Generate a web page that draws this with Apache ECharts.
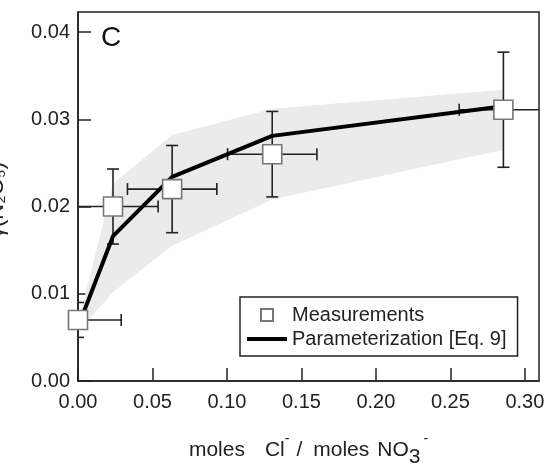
<!DOCTYPE html>
<html>
<head>
<meta charset="utf-8">
<script src="https://cdn.jsdelivr.net/npm/echarts@6/dist/echarts.min.js"></script>
<style>
html,body{margin:0;padding:0;background:#fff;}
#chart{width:558px;height:476px;}
</style>
</head>
<body>
<div id="chart"></div>
<script>
// ---- data ----
const measX    = [0.000, 0.0235, 0.0632, 0.1304, 0.2856];
const measY    = [0.0070, 0.0200, 0.0220, 0.0260, 0.0311];
const measXErr = [0.0290, 0.0303, 0.0300, 0.0300, 0.0297];
const measYErr = [0.0020, 0.0043, 0.0050, 0.0049, 0.0066];

const paramX = [0.000, 0.0235, 0.0632, 0.1304, 0.2856];
const paramY = [0.0062, 0.0166, 0.0234, 0.0281, 0.0315];

const bandX     = [0.002, 0.0235, 0.0632, 0.1304, 0.2856];
const bandUpper = [0.0080, 0.0226, 0.0282, 0.0312, 0.0334];
const bandLower = [0.0060, 0.0102, 0.0155, 0.0208, 0.0265];

const xTicks = ['0.00','0.05','0.10','0.15','0.20','0.25','0.30'];
const yTicks = ['0.00','0.01','0.02','0.03','0.04'];

const seriesNames = ['Measurements', 'Parameterization [Eq. 9]'];
const panelLabel = 'C';
const yTitle = 'γ(N₂O₅)';

// ---- build ----
const FONT = '"Liberation Sans", Arial, Helvetica, sans-serif';
const INK = '#222';

const bandPoly = [];
bandX.forEach((x, i) => bandPoly.push([x, bandUpper[i]]));
for (let i = bandX.length - 1; i >= 0; i--) bandPoly.push([bandX[i], bandLower[i]]);

const errData = measX.map((x, i) => [x, measY[i], measXErr[i], measYErr[i]]);
const measData = measX.map((x, i) => [x, measY[i]]);
const paramData = paramX.map((x, i) => [x, paramY[i]]);

const chart = echarts.init(document.getElementById('chart'), null, {renderer: 'canvas'});

const option = {
  animation: false,
  backgroundColor: '#fff',
  textStyle: {fontFamily: FONT},
  grid: {left: 78, right: 19, top: 12, bottom: 95, show: true, borderColor: INK, borderWidth: 1.5, backgroundColor: 'transparent'},
  xAxis: {
    type: 'value', min: 0, max: 0.3095, interval: 0.05,
    axisLine: {show: true, onZero: false, lineStyle: {color: INK, width: 1.5}},
    axisTick: {show: true, inside: true, length: 13, lineStyle: {color: INK, width: 1.5}},
    splitLine: {show: false},
    axisLabel: {
      fontSize: 20, color: INK, fontFamily: FONT, margin: 11, showMaxLabel: false,
      formatter: v => { const i = Math.round(v / 0.05); return Math.abs(v - i * 0.05) < 1e-9 ? xTicks[i] : ''; }
    },
    name: '{a|moles}{g1| }{a|Cl}{sup|-}{g2| }{a|/}{g3| }{a|moles}{g4| }{a|NO}{sub|3}{g5| }{sup|-}',
    nameLocation: 'middle', nameGap: 51,
    nameTextStyle: {
      fontSize: 21, color: INK, fontFamily: FONT, lineHeight: 36,
      rich: {
        a: {fontSize: 21, color: INK, fontFamily: FONT},
        g1: {fontSize: 21, width: 20},
        g2: {fontSize: 21, width: 7},
        g3: {fontSize: 21, width: 11},
        g4: {fontSize: 21, width: 8},
        g5: {fontSize: 21, width: 3},
        sup: {fontSize: 14, color: INK, fontFamily: FONT, lineHeight: 4, verticalAlign: 'top'},
        sub: {fontSize: 21, color: INK, fontFamily: FONT, lineHeight: 20, verticalAlign: 'bottom'}
      }
    }
  },
  yAxis: {
    type: 'value', min: 0, max: 0.0423, interval: 0.01,
    axisLine: {show: true, onZero: false, lineStyle: {color: INK, width: 1.5}},
    axisTick: {show: true, inside: true, length: 13, lineStyle: {color: INK, width: 1.5}},
    splitLine: {show: false},
    axisLabel: {
      fontSize: 20, color: INK, fontFamily: FONT, margin: 8, showMaxLabel: false,
      formatter: v => { const i = Math.round(v / 0.01); return Math.abs(v - i * 0.01) < 1e-9 ? yTicks[i] : ''; }
    }
  },
  legend: {
    left: 240, top: 297, orient: 'vertical',
    padding: [7, 11, 6, 7],
    itemWidth: 40, itemHeight: 12, itemGap: 2,
    borderColor: INK, borderWidth: 1.5, backgroundColor: '#fff',
    textStyle: {fontSize: 20, color: INK, fontFamily: FONT, lineHeight: 22},
    selectedMode: false,
    data: [
      {name: seriesNames[0], icon: 'path://M0,0H10V10H0Z'},
      {name: seriesNames[1], icon: 'path://M0,0H40V4H0Z'}
    ]
  },
  graphic: [
    {type: 'text', x: 101, y: 38, z: 10, style: {text: panelLabel, fontSize: 28, fill: '#111', fontFamily: FONT, verticalAlign: 'middle', align: 'left'}},
    {type: 'text', x: 8, y: 200, rotation: Math.PI / 2, z: 10, style: {text: yTitle, fontSize: 22, fill: INK, fontFamily: FONT, align: 'center', verticalAlign: 'bottom'}}
  ],
  series: [
    {
      type: 'custom', name: 'band', z: 1, silent: true,
      data: bandPoly,
      encode: {x: 0, y: 1},
      renderItem: (params, api) => {
        if (params.dataIndex !== 0) return null;
        const pts = bandPoly.map(p => api.coord(p));
        return {type: 'polygon', shape: {points: pts}, style: {fill: '#ebebeb', stroke: null}};
      }
    },
    {
      type: 'custom', name: 'errors', z: 2, silent: true, clip: true,
      data: errData,
      encode: {x: 0, y: 1},
      renderItem: (params, api) => {
        const x = api.value(0), y = api.value(1), ex = api.value(2), ey = api.value(3);
        const top = api.coord([x, y + ey]);
        const bot = api.coord([x, y - ey]);
        const lft = api.coord([x - ex, y]);
        const rgt = api.coord([x + ex, y]);
        const c = 6;
        const st = {stroke: INK, lineWidth: 1.6, fill: null};
        const L = (x1, y1, x2, y2) => ({type: 'line', shape: {x1, y1, x2, y2}, style: st});
        return {type: 'group', children: [
          L(top[0], top[1], bot[0], bot[1]),
          L(top[0] - c, top[1], top[0] + c, top[1]),
          L(bot[0] - c, bot[1], bot[0] + c, bot[1]),
          L(lft[0], lft[1], rgt[0], rgt[1]),
          L(lft[0], lft[1] - c, lft[0], lft[1] + c),
          L(rgt[0], rgt[1] - c, rgt[0], rgt[1] + c)
        ]};
      }
    },
    {
      type: 'line', name: seriesNames[1], z: 3,
      data: paramData, showSymbol: false, symbol: 'none',
      lineStyle: {color: '#000', width: 4, join: 'round'},
      itemStyle: {color: '#000'}
    },
    {
      type: 'scatter', name: seriesNames[0], z: 4,
      data: measData, symbol: 'rect', symbolSize: 19,
      itemStyle: {color: '#fff', borderColor: '#777', borderWidth: 1.6, opacity: 1}
    }
  ]
};
chart.setOption(option);
</script>
</body>
</html>
